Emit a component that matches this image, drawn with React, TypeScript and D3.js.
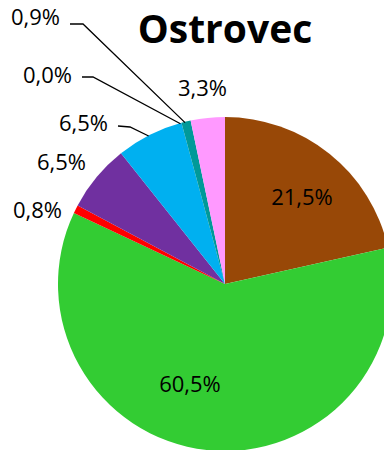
import React from "react";
import * as d3 from "d3";

const categories = ["A", "B", "C", "D", "E", "F", "G", "H"];
const values = [21.5, 60.5, 0.8, 6.5, 6.5, 0.0, 0.9, 3.3];
const labels = ["21,5%", "60,5%", "0,8%", "6,5%", "6,5%", "0,0%", "0,9%", "3,3%"];
const colors = ["#984807", "#33CC33", "#FF0000", "#7030A0", "#00B0F0", "#00B0F0", "#009999", "#FF99FF"];

const W = 384, H = 450;
const cx = 225, cy = 284, R = 167;

const labelPos: [number, number, string][] = [
  [302, 205, "middle"],
  [190, 392, "middle"],
  [13, 218, "start"],
  [37, 170, "start"],
  [59, 131, "start"],
  [23, 83, "start"],
  [11, 25, "start"],
  [178, 96, "start"],
];

const FONT = "'Open Sans', Lato, sans-serif";

export default function App() {
  const pie = d3.pie<number>().sort(null).value((d) => d).startAngle(0).endAngle(2 * Math.PI);
  const arcs = pie(values);
  const arcGen = d3.arc<d3.PieArcDatum<number>>().innerRadius(0).outerRadius(R);
  const edge = (a: number) => [cx + R * Math.sin(a), cy - R * Math.cos(a)];
  const mid = (d: d3.PieArcDatum<number>) => (d.startAngle + d.endAngle) / 2;
  const leaders = [
    { i: 4, pts: [[118, 126], [130, 127]] },
    { i: 5, pts: [[82, 77], [93, 77]] },
    { i: 6, pts: [[70, 24], [83, 24]] },
  ];
  return (
    <svg width={W} height={H} style={{ position: "absolute", left: 0, top: 0 }}>
      <rect width={W} height={H} fill="#fff" />
      <g transform={`translate(${cx},${cy})`}>
        {arcs.map((a, i) => (
          <path key={categories[i]} d={arcGen(a) || ""} fill={colors[i]} />
        ))}
      </g>
      {leaders.map((l) => {
        const e = edge(mid(arcs[l.i]));
        const pts = [...l.pts, [e[0] - 1, e[1] + 1]];
        return (
          <polyline key={l.i} points={pts.map((p) => p.join(",")).join(" ")} fill="none" stroke="#000" strokeWidth={1.3} />
        );
      })}
      <text x={225} y={43} textAnchor="middle" fontFamily={FONT} fontWeight="bold" fontSize={39} fill="#000">
        Ostrovec
      </text>
      {labels.map((t, i) => (
        <text key={i} x={labelPos[i][0]} y={labelPos[i][1]} textAnchor={labelPos[i][2] as any} fontFamily={FONT} fontSize={22} fill="#000">
          {t}
        </text>
      ))}
    </svg>
  );
}
